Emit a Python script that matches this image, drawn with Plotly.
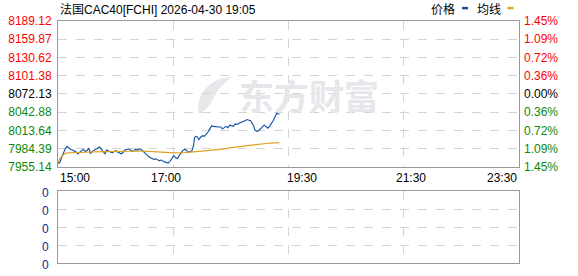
import plotly.graph_objects as go

# ---------------- data ----------------
TITLE = "法国CAC40[FCHI] 2026-04-30 19:05"
BASE = 8072.13  # previous close

# minutes after 15:00
PRICE_T = [0, 2, 4, 6, 8, 10, 12, 14, 16, 18, 20, 22, 24, 26, 28, 30, 32, 34, 36, 38,
           40, 42, 44, 46, 48, 50, 52, 54, 56, 58, 60, 62, 64, 66, 68, 70, 72, 74, 76, 78,
           80, 82, 84, 86, 88, 90, 92, 94, 96, 98, 100, 102, 104, 106, 108, 110, 112, 114,
           116, 118, 120, 122, 124, 126, 128, 130, 132, 134, 136, 138, 140, 142, 144, 146,
           148, 150, 151, 152, 154, 156, 158, 160, 162, 164, 166, 168, 170, 172, 175, 178,
           180, 182, 184, 186, 188, 190, 192, 194, 196, 198, 200, 202, 205, 207, 209, 211,
           213, 214, 216, 218, 220, 222, 224, 226, 228, 230, 232, 234, 236, 238, 240, 242,
           244, 245]
PRICE_V = [7960.5, 7962, 7970, 7978, 7984, 7988, 7985, 7983, 7982, 7981, 7979, 7976, 7978,
           7981, 7983, 7980, 7981, 7985, 7976, 7980, 7982, 7984, 7986, 7987, 7983, 7979,
           7976, 7982, 7980, 7979, 7978, 7980, 7981, 7979, 7977, 7976, 7978, 7982, 7983,
           7984, 7982, 7980, 7981, 7983, 7982, 7984, 7983, 7980, 7977, 7974, 7972, 7970,
           7969, 7967, 7968, 7966, 7965, 7966, 7964, 7963, 7962, 7961, 7964, 7968, 7973,
           7970, 7968, 7973, 7977, 7981, 7983, 7982, 7978, 7980, 7980, 7990, 8001, 8004,
           8003, 7999, 8003, 8005, 8004, 8007, 8011, 8016, 8021, 8020, 8019, 8019, 8019,
           8016, 8018, 8020, 8018, 8022, 8021, 8020, 8024, 8023, 8025, 8026, 8027, 8029,
           8031, 8030, 8029, 8027, 8022, 8014, 8012, 8013, 8016, 8019, 8022, 8020, 8017,
           8020, 8024, 8029, 8035, 8041, 8040, 8040]

AVG_T = [0, 1, 2, 4, 6, 8, 10, 15, 20, 30, 40, 50, 60, 70, 80, 90, 100, 110, 120, 130,
         140, 150, 160, 170, 180, 190, 200, 210, 220, 230, 240, 245]
AVG_V = [7961, 7965, 7968, 7972, 7975, 7976.5, 7977.5, 7978, 7978.5, 7978.5, 7979, 7979.5,
         7980, 7980, 7980.5, 7980.5, 7980, 7979, 7978, 7977.5, 7978, 7979, 7980, 7981,
         7983, 7985.5, 7987.5, 7989.5, 7991, 7992.5, 7993.5, 7994]

Y_TICKS = [8189.12, 8159.87, 8130.62, 8101.38, 8072.13, 8042.88, 8013.64, 7984.39, 7955.14]
PCT_TEXT = ["1.45%", "1.09%", "0.72%", "0.36%", "0.00%", "0.36%", "0.72%", "1.09%", "1.45%"]
X_END = 510
XTICK_T = [0, 120, 270, 390, 510]
XTICK_TEXT = ["15:00", "17:00", "19:30", "21:30", "23:30"]
GRID_X = [127.5, 255, 382.5]
VOL_TICKS = [0, 1, 2, 3, 4]
VOL_TEXT = ["0", "0", "0", "0", "0"]

# ---------------- style ----------------
BLUE = "#0c4da2"
ORANGE = "#dfa223"
RED = "#ff0000"
GREEN = "#0a8a0a"
BLACK = "#000000"
FRAME = "#999999"
GRID = "#d4d4d4"
VOLCOL = "#0a2a8a"
FONT = "Liberation Sans, Arial, Noto Sans CJK SC"


def tick_color(v):
    if v > BASE + 0.001:
        return RED
    if v < BASE - 0.001:
        return GREEN
    return BLACK


left_text = [f"<span style='color:{tick_color(v)}'>{v:.2f}</span>" for v in Y_TICKS]
right_text = [f"<span style='color:{tick_color(v)}'>{t}</span>" for v, t in zip(Y_TICKS, PCT_TEXT)]

W, H = 578, 276
ML, MR, MT, MB = 58, 59, 21, 6
plot_h = H - MT - MB
main_bottom_px = 171
vol_top_px = 196
main_dom = [(H - MB - main_bottom_px) / plot_h, 1.0]
vol_dom = [0.0, (H - MB - vol_top_px) / plot_h]

fig = go.Figure()
fig.add_trace(go.Scatter(x=PRICE_T, y=PRICE_V, mode="lines", line=dict(color=BLUE, width=1.1),
                         xaxis="x", yaxis="y", hoverinfo="skip", showlegend=False))
fig.add_trace(go.Scatter(x=AVG_T, y=AVG_V, mode="lines", line=dict(color=ORANGE, width=1.2),
                         xaxis="x", yaxis="y", hoverinfo="skip", showlegend=False))
fig.add_trace(go.Scatter(x=AVG_T, y=AVG_V, mode="lines", line=dict(width=0), opacity=0,
                         xaxis="x", yaxis="y2", hoverinfo="skip", showlegend=False))
fig.add_trace(go.Scatter(x=[0, X_END], y=[0, 0], mode="lines", line=dict(width=0), opacity=0,
                         xaxis="x2", yaxis="y3", hoverinfo="skip", showlegend=False))

yrange = [Y_TICKS[-1], Y_TICKS[0]]
common_x = dict(range=[0, X_END], tickmode="array", tickvals=GRID_X, showticklabels=False,
                ticks="", showgrid=True, gridcolor=GRID, griddash="dash", gridwidth=1,
                showline=True, mirror=True, linecolor=FRAME, linewidth=1, zeroline=False,
                fixedrange=True)

fig.update_layout(
    width=W, height=H,
    margin=dict(l=ML, r=MR, t=MT, b=MB),
    paper_bgcolor="white", plot_bgcolor="white",
    font=dict(family=FONT, size=12, color="#000"),
    xaxis=dict(domain=[0, 1], anchor="y", **common_x),
    xaxis2=dict(domain=[0, 1], anchor="y3", **common_x),
    yaxis=dict(domain=main_dom, range=yrange, tickmode="array", tickvals=Y_TICKS,
               ticktext=left_text, showgrid=True, gridcolor=GRID, griddash="dash", ticks="",
               ticklabelstandoff=3, showline=True, mirror=True, linecolor=FRAME,
               zeroline=False, tickfont=dict(family=FONT, size=12)),
    yaxis2=dict(domain=main_dom, range=yrange, overlaying="y", side="right", anchor="x",
                tickmode="array", tickvals=Y_TICKS, ticktext=right_text, showgrid=False,
                ticks="", ticklabelstandoff=4, showline=False, zeroline=False,
                tickfont=dict(family=FONT, size=12)),
    yaxis3=dict(domain=vol_dom, range=[0, 4], tickmode="array", tickvals=VOL_TICKS,
                showticklabels=False, anchor="x2", showgrid=True, gridcolor=GRID,
                griddash="dash", ticks="", showline=True, mirror=True,
                linecolor=FRAME, zeroline=False),
    showlegend=False,
)


def px(x):
    return (x - ML) / (W - ML - MR)


def py(y):
    return (H - MB - y) / plot_h


anns = []
shapes = []
# title
anns.append(dict(text=TITLE, x=0, xref="paper", y=1, yref="paper", xanchor="left",
                 yanchor="bottom", yshift=2, showarrow=False,
                 font=dict(family=FONT, size=12, color="#000")))
# legend
legend_items = [("价格", 443, BLUE, 465), ("均线", 488.5, ORANGE, 510.5)]
for label, cx, col, bx in legend_items:
    anns.append(dict(text=label, x=px(cx), xref="paper", y=1, yref="paper",
                     xanchor="center", yanchor="bottom", yshift=2, showarrow=False,
                     font=dict(family=FONT, size=12, color="#000")))
    shapes.append(dict(type="rect", xref="paper", yref="paper",
                       x0=px(bx - 3), x1=px(bx + 3), y0=py(9), y1=py(6.5),
                       fillcolor=col, line=dict(width=0)))
# x tick labels
for t, txt in zip(XTICK_T, XTICK_TEXT):
    anchor = "left" if t == 0 else ("right" if t == X_END else "center")
    anns.append(dict(text=txt, x=t, xref="x", y=main_dom[0], yref="paper", xanchor=anchor,
                     yanchor="top", yshift=-2, showarrow=False,
                     font=dict(family=FONT, size=12, color="#000")))
# volume panel tick labels
for v, txt in zip(VOL_TICKS, VOL_TEXT):
    anns.append(dict(text=txt, x=0, xref="x2 domain", xshift=-7, y=v, yref="y3",
                     xanchor="right", yanchor="middle", yshift=-2, showarrow=False,
                     font=dict(family=FONT, size=12, color=VOLCOL)))
# watermark
anns.append(dict(text="<b>东方财富</b>", x=px(309), xref="paper", y=py(97), yref="paper",
                 xanchor="center", yanchor="middle", showarrow=False,
                 font=dict(family="Noto Sans CJK SC", size=35, color="#e6e6eb")))

logo = (f"M {px(199)},{py(117)} C {px(196)},{py(100)} {px(205)},{py(86)} {px(222)},{py(80)} "
        f"L {px(232)},{py(78)} C {px(222)},{py(86)} {px(214)},{py(96)} {px(212)},{py(104)} "
        f"C {px(209)},{py(108)} {px(205)},{py(114)} {px(199)},{py(117)} Z")
shapes.append(dict(type="path", path=logo, xref="paper", yref="paper",
                   fillcolor="#e6e6eb", line=dict(width=0), layer="below"))

fig.update_layout(annotations=anns, shapes=shapes)
fig.write_html("out.html")
